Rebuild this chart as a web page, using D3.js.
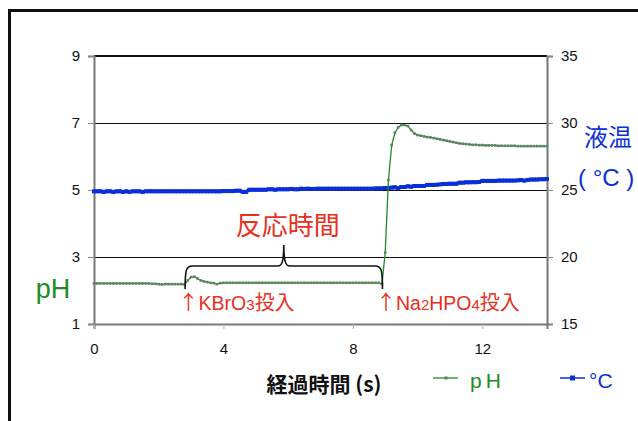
<!DOCTYPE html>
<html>
<head>
<meta charset="utf-8">
<script src="https://cdn.jsdelivr.net/npm/d3@7"></script>
<style>
  html, body { margin: 0; padding: 0; background: #fff; }
  svg { display: block; }
</style>
</head>
<body>
<svg id="chart" width="638" height="421"></svg>
<script>
// Time axis (s), sampled every 0.1 s from 0 to 14
const timeStep = 0.1;
const times = d3.range(0, 141).map(i => +(i * timeStep).toFixed(1));

// pH readings
const phValues = [
  2.21,2.21,2.21,2.21,2.21,2.21,2.21,2.21,2.21,2.21,
  2.21,2.21,2.21,2.21,2.21,2.21,2.21,2.21,2.20,2.20,
  2.19,2.18,2.19,2.19,2.19,2.19,2.19,2.19,2.18,2.30,
  2.40,2.41,2.36,2.30,2.27,2.25,2.23,2.22,2.19,2.22,
  2.23,2.23,2.23,2.23,2.23,2.23,2.23,2.23,2.23,2.23,
  2.23,2.23,2.23,2.23,2.23,2.23,2.23,2.23,2.23,2.23,
  2.23,2.23,2.23,2.23,2.23,2.23,2.23,2.23,2.23,2.23,
  2.23,2.23,2.23,2.23,2.23,2.23,2.23,2.23,2.23,2.23,
  2.23,2.23,2.23,2.23,2.23,2.23,2.23,2.23,2.23,2.19,
  3.13,5.30,6.34,6.71,6.87,6.94,6.94,6.91,6.79,6.69,
  6.64,6.62,6.60,6.58,6.57,6.55,6.53,6.51,6.49,6.47,
  6.45,6.43,6.41,6.39,6.38,6.37,6.36,6.35,6.35,6.34,
  6.34,6.33,6.33,6.33,6.33,6.32,6.32,6.32,6.32,6.32,
  6.32,6.31,6.31,6.31,6.31,6.31,6.31,6.31,6.31,6.31,
  6.31
];

// Liquid temperature readings (°C)
const tempValues = [
  24.90,24.90,24.90,24.86,24.90,24.90,24.86,24.90,24.90,24.86,
  24.90,24.86,24.90,24.90,24.90,24.86,24.90,24.90,24.90,24.90,
  24.90,24.90,24.90,24.90,24.90,24.90,24.90,24.90,24.90,24.90,
  24.90,24.90,24.90,24.90,24.90,24.90,24.90,24.90,24.90,24.90,
  24.92,24.92,24.92,24.92,24.95,24.95,24.86,24.86,25.02,25.02,
  25.02,25.02,25.02,25.02,25.05,25.05,25.02,25.05,25.05,25.05,
  25.05,25.08,25.05,25.05,25.10,25.08,25.10,25.08,25.08,25.10,
  25.10,25.10,25.10,25.10,25.10,25.10,25.10,25.10,25.10,25.10,
  25.10,25.10,25.10,25.10,25.10,25.10,25.10,25.12,25.12,25.12,
  25.15,25.15,25.18,25.20,25.15,25.22,25.22,25.28,25.24,25.30,
  25.30,25.30,25.30,25.38,25.38,25.38,25.40,25.42,25.45,25.45,
  25.47,25.47,25.47,25.55,25.55,25.57,25.57,25.58,25.58,25.60,
  25.68,25.68,25.68,25.68,25.68,25.70,25.70,25.70,25.70,25.70,
  25.70,25.72,25.75,25.70,25.75,25.78,25.78,25.78,25.80,25.80,
  25.82
];

// Axis ticks
const phTicks = [1, 3, 5, 7, 9];
const tempTicks = [15, 20, 25, 30, 35];
const timeTicks = [0, 4, 8, 12];

// Dosing events (s)
const eventKBrO3 = 2.8;
const eventNa2HPO4 = 8.9;

const phData = times.map((t, i) => ({ t, v: phValues[i] }));
const tempData = times.map((t, i) => ({ t, v: tempValues[i] }));

const plot = { left: 94, right: 547, top: 56, bottom: 324 };

const svg = d3.select("#chart");
const numFont = "'Liberation Sans', Arial, sans-serif";
const jpFont = "'Noto Sans CJK JP', sans-serif";

const x = d3.scaleLinear().domain([0, 14]).range([plot.left, plot.right]);
const yPh = d3.scaleLinear().domain([1, 9]).range([plot.bottom, plot.top]);
const yTemp = d3.scaleLinear().domain([15, 35]).range([plot.bottom, plot.top]);

const green = "#1e8c28";
const blue = "#0a2ed8";
const red = "#e8301c";

// Outer frame
svg.append("rect")
  .attr("x", 9.5).attr("y", 10.5)
  .attr("width", 700).attr("height", 440)
  .attr("fill", "none").attr("stroke", "#111").attr("stroke-width", 3);

// Horizontal gridlines
svg.append("g").selectAll("line")
  .data(phTicks.filter(d => d !== 1))
  .join("line")
  .attr("x1", plot.left).attr("x2", plot.right)
  .attr("y1", d => d === 9 ? yPh(d) : yPh(d) + 0.5)
  .attr("y2", d => d === 9 ? yPh(d) : yPh(d) + 0.5)
  .attr("stroke", "#111")
  .attr("stroke-width", d => d === 9 ? 2.2 : 1);

// Left pH axis
const leftAxis = svg.append("g")
  .attr("transform", `translate(${plot.left},0)`)
  .call(d3.axisLeft(yPh).tickValues(phTicks).tickSize(6).tickPadding(8));
leftAxis.select(".domain").attr("stroke", "#777").attr("stroke-width", 2);
leftAxis.selectAll(".tick line").attr("stroke", "#888");
leftAxis.selectAll("text").attr("font-family", numFont).attr("font-size", 15).attr("fill", "#111");

// Right temperature axis
const rightAxis = svg.append("g")
  .attr("transform", `translate(${plot.right},0)`)
  .call(d3.axisRight(yTemp).tickValues(tempTicks).tickSize(6).tickPadding(8));
rightAxis.select(".domain").attr("stroke", "#777").attr("stroke-width", 2);
rightAxis.selectAll(".tick line").attr("stroke", "#888");
rightAxis.selectAll("text").attr("font-family", numFont).attr("font-size", 15).attr("fill", "#111");

// Bottom time axis
const bottomAxis = svg.append("g")
  .attr("transform", `translate(0,${plot.bottom})`)
  .call(d3.axisBottom(x).tickValues(timeTicks).tickSize(5).tickPadding(14));
bottomAxis.select(".domain").attr("stroke", "#777").attr("stroke-width", 2);
bottomAxis.selectAll(".tick line").attr("stroke", "#aaa");
bottomAxis.selectAll("text").attr("font-family", numFont).attr("font-size", 15).attr("fill", "#111");

// Temperature series
svg.append("path")
  .datum(tempData)
  .attr("fill", "none").attr("stroke", blue).attr("stroke-width", 3.5)
  .attr("d", d3.line().x(d => x(d.t)).y(d => yTemp(d.v)));
svg.append("g").selectAll("rect")
  .data(tempData)
  .join("rect")
  .attr("x", d => x(d.t) - 2).attr("y", d => yTemp(d.v) - 2)
  .attr("width", 4).attr("height", 4)
  .attr("fill", blue);

// pH series
svg.append("path")
  .datum(phData)
  .attr("fill", "none").attr("stroke", green).attr("stroke-width", 1.3)
  .attr("d", d3.line().x(d => x(d.t)).y(d => yPh(d.v)));
svg.append("g").selectAll("rect")
  .data(phData)
  .join("rect")
  .attr("x", d => x(d.t) - 1.3).attr("y", d => yPh(d.v) - 1.3)
  .attr("width", 2.6).attr("height", 2.6)
  .attr("fill", "#5f8062");

// Curly brace spanning the reaction time
const bx1 = x(eventKBrO3) + 0.5, bx2 = x(eventNa2HPO4) + 0.5;
const bmid = (bx1 + bx2) / 2;
const bBottom = 289, bLine = 266, bTip = 245;
const brace = d3.path();
brace.moveTo(bx1, bBottom);
brace.bezierCurveTo(bx1, bLine + 4, bx1 + 1, bLine, bx1 + 7, bLine);
brace.lineTo(bmid - 6, bLine);
brace.bezierCurveTo(bmid - 2, bLine, bmid, bLine - 4, bmid, bTip);
brace.bezierCurveTo(bmid, bLine - 4, bmid + 2, bLine, bmid + 6, bLine);
brace.lineTo(bx2 - 7, bLine);
brace.bezierCurveTo(bx2 - 1, bLine, bx2, bLine + 4, bx2, bBottom);
svg.append("path")
  .attr("d", brace.toString())
  .attr("fill", "none").attr("stroke", "#111").attr("stroke-width", 1.6);

svg.append("text")
  .attr("x", bmid + 4).attr("y", 235)
  .attr("text-anchor", "middle")
  .attr("font-family", jpFont).attr("font-size", 26).attr("fill", red)
  .text("反応時間");

// Event labels with arrows: [text, font, size]
function eventLabel(t, parts) {
  const txt = svg.append("text")
    .attr("x", x(t) - 6).attr("y", 310)
    .attr("fill", red);
  parts.forEach(([s, font, size]) => {
    txt.append("tspan")
      .attr("font-family", font)
      .attr("font-size", size)
      .text(s);
  });
}
eventLabel(eventKBrO3, [
  ["↑", jpFont, 20], ["KBrO", numFont, 19.5], ["3", numFont, 15], ["投入", jpFont, 20]
]);
eventLabel(eventNa2HPO4, [
  ["↑", jpFont, 20], ["Na", numFont, 19.5], ["2", numFont, 15], ["HPO", numFont, 19.5],
  ["4", numFont, 15], ["投入", jpFont, 20]
]);

// Axis titles
svg.append("text")
  .attr("x", 53).attr("y", 298)
  .attr("text-anchor", "middle")
  .attr("font-family", numFont).attr("font-size", 27).attr("fill", green)
  .text("pH");

svg.append("text")
  .attr("x", 584).attr("y", 146)
  .attr("font-family", jpFont).attr("font-size", 24).attr("fill", blue)
  .text("液温");
svg.append("text")
  .attr("x", 578).attr("y", 186)
  .attr("font-family", numFont).attr("font-size", 24).attr("fill", blue)
  .attr("xml:space", "preserve")
  .text("( °C )");

svg.append("text")
  .attr("x", 324).attr("y", 392)
  .attr("text-anchor", "middle")
  .attr("font-family", jpFont).attr("font-size", 21).attr("font-weight", 700).attr("fill", "#111")
  .text("経過時間 (s)");

// Legend
const legY = 378;
svg.append("line").attr("x1", 433).attr("x2", 458).attr("y1", legY).attr("y2", legY)
  .attr("stroke", green).attr("stroke-width", 1.3);
svg.append("rect").attr("x", 444.5).attr("y", legY - 1.5).attr("width", 3).attr("height", 3).attr("fill", "#5f8062");
svg.append("text").attr("x", 470).attr("y", legY + 10)
  .attr("font-family", numFont).attr("font-size", 21).attr("fill", green)
  .attr("letter-spacing", 4)
  .text("pH");

svg.append("line").attr("x1", 560).attr("x2", 585).attr("y1", legY).attr("y2", legY)
  .attr("stroke", blue).attr("stroke-width", 1.5);
svg.append("rect").attr("x", 570).attr("y", legY - 2.5).attr("width", 5).attr("height", 5).attr("fill", blue);
svg.append("text").attr("x", 589).attr("y", legY + 10)
  .attr("font-family", numFont).attr("font-size", 21).attr("fill", blue)
  .text("°C");
</script>
</body>
</html>
